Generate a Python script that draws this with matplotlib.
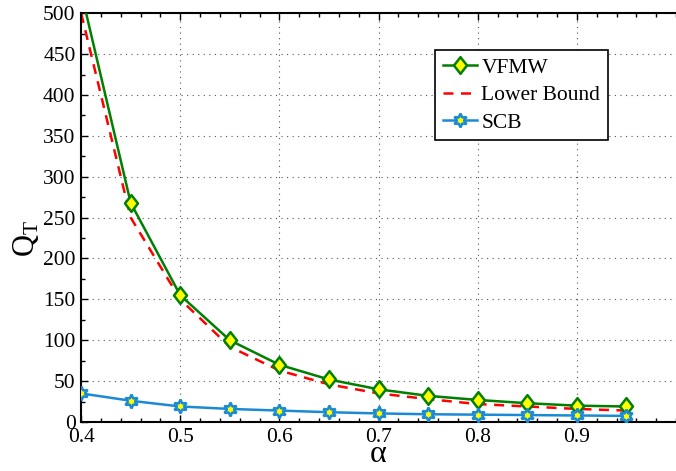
import matplotlib
matplotlib.use("Agg")
import matplotlib.pyplot as plt
from matplotlib.ticker import MultipleLocator
from matplotlib.path import Path

plt.rcParams['font.family'] = ['Liberation Serif', 'DejaVu Serif']
plt.rcParams['mathtext.fontset'] = 'custom'
plt.rcParams['mathtext.rm'] = 'Liberation Serif'
plt.rcParams['mathtext.it'] = 'Liberation Serif'

alpha = [0.40, 0.45, 0.50, 0.55, 0.60, 0.65, 0.70, 0.75, 0.80, 0.85, 0.90, 0.95]
vfmw = [526, 268, 155, 100, 70, 52, 40, 32, 27, 23, 20, 19]
lower_bound = [500, 250, 150, 92, 63, 46, 35, 28, 22, 19, 16, 14]
scb = [35, 26, 19, 16, 14, 12, 10.5, 9.5, 9, 8.5, 8, 7.5]

diamond = Path([(0, 1), (0.78, 0), (0, -1), (-0.78, 0), (0, 1)],
               [Path.MOVETO, Path.LINETO, Path.LINETO, Path.LINETO, Path.CLOSEPOLY])

fig = plt.figure(figsize=(6.76, 4.71), dpi=100)
ax = fig.add_axes([0.12, 0.104, 0.88, 0.868])

ax.plot(alpha, vfmw, color='#007f00', lw=1.8, marker=diamond, ms=12,
        mfc='#ffff00', mec='#007f00', mew=1.8, label='VFMW', zorder=3)
ax.plot(alpha, lower_bound, color='#ff0000', lw=1.8, ls=(0, (4, 3)),
        label='Lower Bound', zorder=2)
ax.plot(alpha, scb, color='#1a8ad4', lw=1.8, marker=(6, 1, 0), ms=10,
        mfc='#ffff00', mec='#1a8ad4', mew=1.8, label='SCB', zorder=3)

ax.set_xlim(0.4, 1.0)
ax.set_ylim(0, 500)
ax.xaxis.set_minor_locator(MultipleLocator(0.02))
ax.yaxis.set_major_locator(MultipleLocator(50))
ax.yaxis.set_minor_locator(MultipleLocator(25))
ax.set_xticks([0.4, 0.5, 0.6, 0.7, 0.8, 0.9])
ax.set_xticklabels(['0.4', '0.5', '0.6', '0.7', '0.8', '0.9'])
ax.tick_params(which='both', direction='in', top=True, right=False, labelsize=15.5)
ax.tick_params(axis='y', pad=4)
ax.tick_params(axis='x', pad=4)
ax.tick_params(which='major', length=5, width=1)
ax.tick_params(which='minor', length=3, width=1)
ax.grid(True, which='major', ls=(0, (1, 4)), color='#555555', lw=0.8)
for s in ['left', 'bottom', 'top']:
    ax.spines[s].set_linewidth(1.5)
ax.spines['right'].set_visible(False)

ax.set_xlabel('α', fontsize=23, labelpad=-5)
ax.set_ylabel(r'Q$_\mathrm{T}$', fontsize=22)
ax.yaxis.set_label_coords(-0.068, 0.45)

leg = ax.legend(loc='upper left', bbox_to_anchor=(0.595, 0.91), borderaxespad=0,
                fontsize=15.5, frameon=True, fancybox=False, edgecolor='black',
                framealpha=1, handlelength=1.6, borderpad=0.35, labelspacing=0.35,
                handletextpad=0.2)
leg.get_frame().set_linewidth(1.2)

fig.savefig('out.png', dpi=100)
